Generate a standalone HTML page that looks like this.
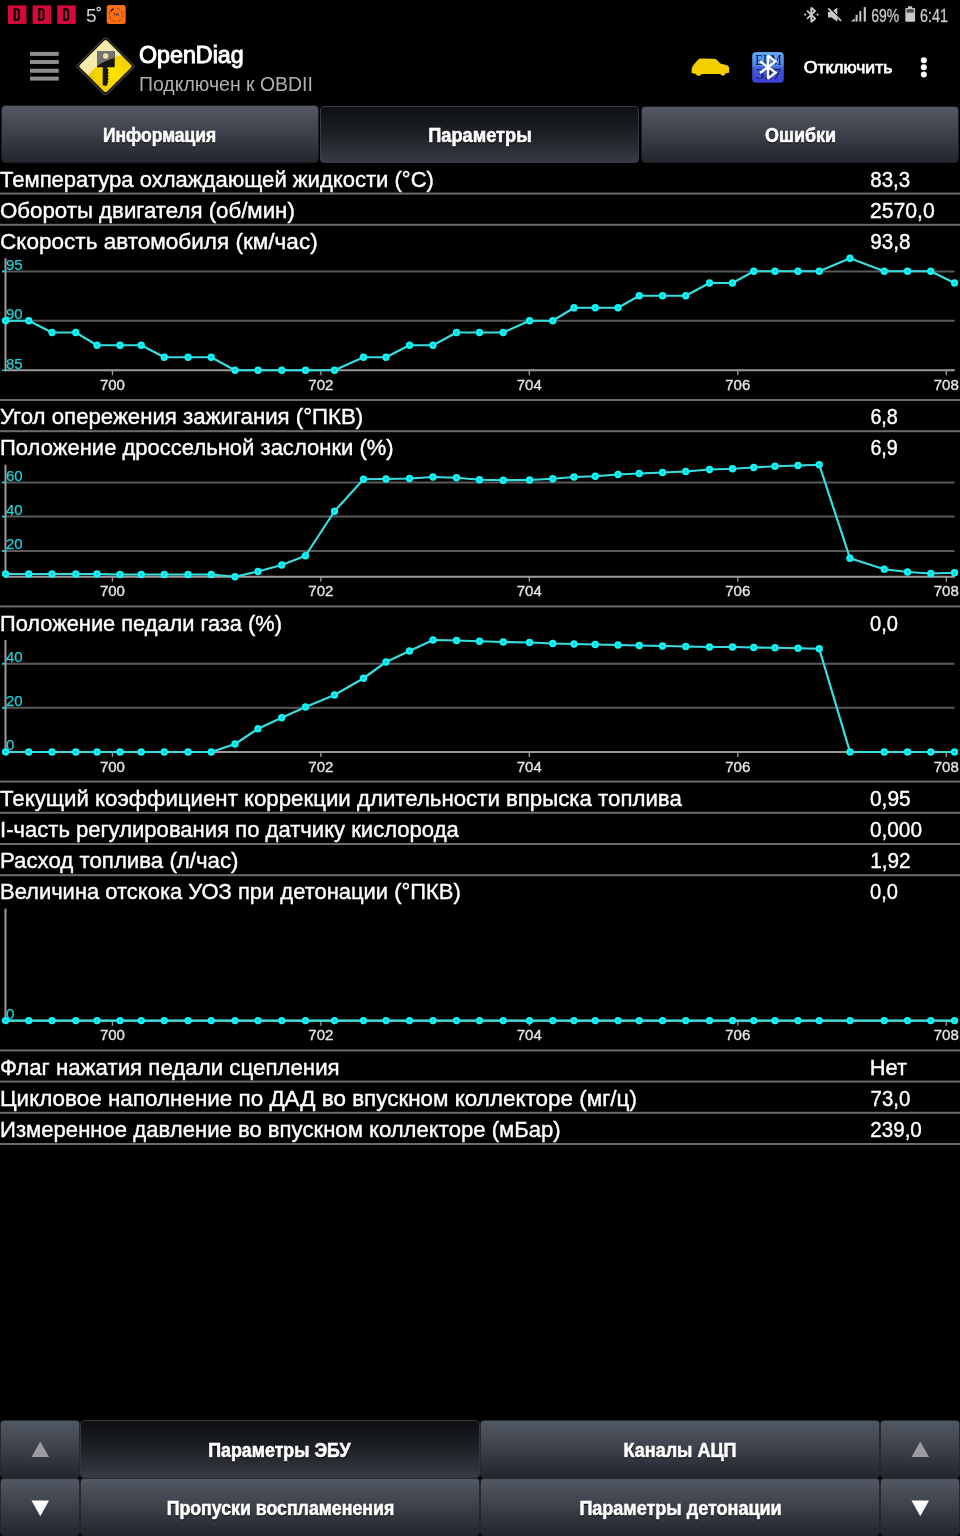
<!DOCTYPE html>
<html><head><meta charset="utf-8"><title>OpenDiag</title>
<style>
html,body{margin:0;padding:0;background:#000;}
body{width:960px;height:1536px;position:relative;overflow:hidden;font-family:'Liberation Sans', sans-serif;}
svg text{font-family:'Liberation Sans', sans-serif;}
.btn{position:absolute;box-sizing:border-box;border-radius:4px;}
.un{background:linear-gradient(#535964 0%,#3b4049 50%,#22262d 100%);border:1px solid #1b1d21;}
.se{background:linear-gradient(#0e1014 0%,#1d2025 50%,#383b43 100%);border:1.5px solid #393c41;}
.b2{border-width:1.4px;border-color:#25282c;border-radius:3.5px;}
.se.b2{border-color:#34373b;}
</style></head><body>
<div class="btn un" style="left:1px;top:105.4px;width:318px;height:57.5px"></div>
<div class="btn se" style="left:320.4px;top:105.6px;width:319px;height:57.3px"></div>
<div class="btn un" style="left:640.9px;top:105.9px;width:318.6px;height:57px"></div>
<div class="btn un b2" style="left:0.3px;top:1419.8px;width:79.6px;height:58.4px"></div>
<div class="btn se b2" style="left:79.9px;top:1419.8px;width:400.4px;height:58.4px"></div>
<div class="btn un b2" style="left:480.2px;top:1419.8px;width:399.6px;height:58.4px"></div>
<div class="btn un b2" style="left:879.8px;top:1419.8px;width:79.9px;height:58.4px"></div>
<div class="btn un b2" style="left:0.3px;top:1478.1px;width:79.6px;height:57.6px"></div>
<div class="btn un b2" style="left:79.9px;top:1478.1px;width:400.4px;height:57.6px"></div>
<div class="btn un b2" style="left:480.2px;top:1478.1px;width:399.6px;height:57.6px"></div>
<div class="btn un b2" style="left:879.8px;top:1478.1px;width:79.9px;height:57.6px"></div>
<svg width="960" height="1536" viewBox="0 0 960 1536" style="position:absolute;left:0;top:0;will-change:transform">

<defs>
<radialGradient id="ydia" cx="0.62" cy="0.62" r="0.5">
<stop offset="0" stop-color="#ffe600"/><stop offset="0.6" stop-color="#f4d200"/><stop offset="1" stop-color="#e8c000"/>
</radialGradient>
<linearGradient id="bt" x1="0" y1="0" x2="0" y2="1">
<stop offset="0" stop-color="#62a8f4"/><stop offset="0.45" stop-color="#4f84e6"/><stop offset="0.5" stop-color="#4262dc"/><stop offset="1" stop-color="#3f3ad6"/>
</linearGradient>
<linearGradient id="keyhead" x1="0" y1="0" x2="0" y2="1">
<stop offset="0" stop-color="#6a6a6a"/><stop offset="0.45" stop-color="#4a4a4a"/><stop offset="0.55" stop-color="#111"/><stop offset="1" stop-color="#111"/>
</linearGradient>
</defs>
<!-- status bar left -->
<g>
<rect x="7.9" y="5.4" width="18.5" height="18.5" fill="#d6083a"/>
<rect x="32.6" y="5.4" width="18.5" height="18.5" fill="#d6083a"/>
<rect x="57.3" y="5.4" width="18.5" height="18.5" fill="#d6083a"/>
<g fill="none" stroke="#000" stroke-width="2">
<path d="M14.6 9.2 L17.0 9.2 Q18.9 9.2 18.9 11.6 L18.9 17.6 Q18.9 20 17.0 20 L14.6 20 Z"/>
<path d="M39.3 9.2 L41.7 9.2 Q43.6 9.2 43.6 11.6 L43.6 17.6 Q43.6 20 41.7 20 L39.3 20 Z"/>
<path d="M64 9.2 L66.4 9.2 Q68.3 9.2 68.3 11.6 L68.3 17.6 Q68.3 20 66.4 20 L64 20 Z"/>
</g>
<text x="86" y="21.5" font-size="19" fill="#d4d4d4">5</text>
<circle cx="98.7" cy="9.1" r="1.7" fill="none" stroke="#d4d4d4" stroke-width="1.2"/>
<rect x="106.7" y="4.9" width="19" height="19" rx="2.5" fill="#f86e14"/>
<circle cx="116" cy="14.8" r="6.7" fill="none" stroke="#9a3c0c" stroke-width="0.9" stroke-dasharray="3 2.4"/>
<path d="M111.2 10.8 L112.8 9.2" stroke="#1a0a04" stroke-width="1.4" stroke-linecap="round"/>
<text x="116" y="16.3" font-size="4.2" font-weight="bold" fill="#5a3a30" text-anchor="middle">TM</text>
</g>
<!-- status bar right -->
<g fill="#c8c8c8" stroke="none">
<path d="M807 10.6 L815 18.4 L811.3 22 L811.3 7.6 L815 11.1 L807 18.9" fill="none" stroke="#c8c8c8" stroke-width="1.9" stroke-linejoin="miter" stroke-miterlimit="2"/>
<circle cx="805.2" cy="14.6" r="1.1"/><circle cx="817.5" cy="14.6" r="1.1"/>
<path d="M828 11.8 L831.6 11.8 L837.3 7.6 L837.3 21.8 L831.6 17.6 L828 17.6 Z"/>
<path d="M829.6 8 L842 20.4" stroke="#000" stroke-width="1.5"/>
<path d="M828.7 8.9 L840.6 20.3" stroke="#c8c8c8" stroke-width="1.8" stroke-linecap="round"/>
<path d="M851 21.6 L854.8 18.3 L854.8 21.6 Z"/>
<rect x="855.6" y="14.8" width="2" height="6.8"/>
<rect x="859.3" y="11.1" width="2" height="10.5"/>
<rect x="863.7" y="7.1" width="2.2" height="14.5"/>
<text x="871.32" y="21.7" font-size="18" stroke="#c8c8c8" stroke-width="0.3" textLength="28" lengthAdjust="spacingAndGlyphs">69%</text>
<rect x="908" y="6.3" width="4.2" height="2" />
<rect x="905.3" y="7.9" width="9.8" height="13.8" rx="0.8"/>
<rect x="906.6" y="9.2" width="7.2" height="3.4" fill="#4a4a4a"/>
<text x="920" y="21.7" font-size="18" stroke="#c8c8c8" stroke-width="0.3" textLength="28.04" lengthAdjust="spacingAndGlyphs">6:41</text>
</g>
<!-- action bar -->
<g fill="#8d8d8d">
<rect x="30" y="51.9" width="28.75" height="4"/>
<rect x="30" y="60" width="28.75" height="4"/>
<rect x="30" y="68.75" width="28.75" height="4"/>
<rect x="30" y="76.6" width="28.75" height="4"/>
</g>
<!-- diamond logo -->
<g>
<path d="M105.6 37.4 Q106.9 37.4 108.1 38.6 L133.9 64.4 Q135.3 65.8 135.3 66.3 Q135.3 66.8 133.9 68.2 L108.1 94 Q106.9 95.2 105.6 95.2 Q104.3 95.2 103.1 94 L77.3 68.2 Q75.9 66.8 75.9 66.3 Q75.9 65.8 77.3 64.4 L103.1 38.6 Q104.3 37.4 105.6 37.4 Z" fill="#3c3c3c"/>
<path d="M105.6 38.9 Q106.6 38.9 107.5 39.8 L132.7 65 Q133.9 66.2 133.9 66.3 Q133.9 66.4 132.7 67.6 L107.5 92.8 Q106.6 93.7 105.6 93.7 Q104.6 93.7 103.7 92.8 L78.5 67.6 Q77.3 66.4 77.3 66.3 Q77.3 66.2 78.5 65 L103.7 39.8 Q104.6 38.9 105.6 38.9 Z" fill="#0c0c0c"/>
<path d="M105.6 40.3 Q106.5 40.3 107.2 41 L131.2 65 Q132.5 66.3 131.2 67.6 L107.2 91.6 Q106.5 92.3 105.6 92.3 Q104.7 92.3 104 91.6 L80 67.6 Q78.7 66.3 80 65 L104 41 Q104.7 40.3 105.6 40.3 Z" fill="url(#ydia)"/>
<path d="M105.6 40.3 Q106.5 40.3 107.2 41 L121.5 55.3 Q99 60 88.5 75.5 L80 67.6 Q78.7 66.3 80 65 L104 41 Q104.7 40.3 105.6 40.3 Z" fill="#f5eaae"/>
<path d="M97 51 L114.7 51 L114.7 67.3 L107.4 67.3 L107.4 68.8 L108.8 70 L107.6 71.6 L108.8 73 L107.6 74.6 L108.8 76 L107.6 77.6 L108.8 79 L107.6 80.6 L108.4 82 L107.4 83.2 L107.4 85 Q107 85.8 105 85.8 Q103 85.8 102.7 85 L102.7 67.3 L97 67.3 Z" fill="#161616"/>
<path d="M97 51 L114.7 51 L114.7 58 Q104.5 60.5 97 66.3 Z" fill="#737373"/>
<circle cx="105.7" cy="56" r="2.7" fill="#f3e3a2"/>
</g>
<text x="138.99" y="62.9" font-size="23" fill="#fff" stroke="#fff" stroke-width="0.95" textLength="104.7" lengthAdjust="spacingAndGlyphs">OpenDiag</text>
<text x="139.01" y="91.25" font-size="19.6" fill="#b0b0b0" textLength="173.9" lengthAdjust="spacingAndGlyphs">Подключен к OBDII</text>
<!-- car -->
<path d="M691.5 72.5 C691.3 69 692.5 65.5 694.3 64 L698 59.8 C699 58.8 700 58.5 701.5 58.5 L714 58.7 C715.5 58.8 716.5 59.3 717.3 60.3 L720.4 63.6 L727 65.3 C728.5 66 729.2 67.2 729.2 68.5 L729.2 72 C729 72.8 728.5 73 727.7 73 L725.5 73.2 C725 75 724 75.6 723 75.6 C721.8 75.6 720.8 75 720.4 73.9 L701.6 73.9 C701 75 700 75.7 698.6 75.7 C697.3 75.7 696.3 75 695.9 73.9 L692.3 73.2 C691.8 73.1 691.5 72.9 691.5 72.5 Z" fill="#f4cf00"/>
<!-- ELM327 bluetooth icon -->
<rect x="752.2" y="52" width="31.6" height="30.8" rx="4" fill="url(#bt)"/>
<text x="768.5" y="64.7" style="font-family:'Liberation Serif'" font-size="14.8" fill="#081436" text-anchor="middle" textLength="26.5" lengthAdjust="spacingAndGlyphs">ELM</text>
<text x="768.5" y="79.1" style="font-family:'Liberation Serif'" font-size="15.2" fill="#0e1646" text-anchor="middle" textLength="25.5" lengthAdjust="spacingAndGlyphs">327</text>
<path d="M759.9 61.3 L775.6 72.6 L768 78.6 L768 55.6 L775.6 61.5 L759.9 73" fill="none" stroke="#fff" stroke-width="2.3" stroke-linejoin="miter" stroke-miterlimit="2"/>
<text x="803.75" y="73.3" font-size="17.4" fill="#fff" stroke="#fff" stroke-width="0.75" textLength="88.56" lengthAdjust="spacingAndGlyphs">Отключить</text>
<g fill="#fff"><circle cx="923.8" cy="60.2" r="3"/><circle cx="923.8" cy="67.3" r="3"/><circle cx="923.8" cy="74.5" r="3"/></g>

<g id="tabs" font-weight="bold" font-size="19.5" fill="#fff" stroke="#fff" stroke-width="0.6" style="filter:drop-shadow(0.8px 1px 0.5px #000)">
<text x="102.9" y="141.7" textLength="113.37" lengthAdjust="spacingAndGlyphs">Информация</text>
<text x="428.27" y="141.7" textLength="103.43" lengthAdjust="spacingAndGlyphs">Параметры</text>
<text x="765.08" y="141.7" textLength="71.03" lengthAdjust="spacingAndGlyphs">Ошибки</text>
<text x="208.29" y="1456.7" textLength="142.24" lengthAdjust="spacingAndGlyphs">Параметры ЭБУ</text>
<text x="623.58" y="1456.7" textLength="112.91" lengthAdjust="spacingAndGlyphs">Каналы АЦП</text>
<text x="166.69" y="1514.9" textLength="227.56" lengthAdjust="spacingAndGlyphs">Пропуски воспламенения</text>
<text x="579.38" y="1514.9" textLength="202.28" lengthAdjust="spacingAndGlyphs">Параметры детонации</text>
</g>
<path d="M40.25 1441.5 L49 1457.1 L31.5 1457.1 Z" fill="#9c9c9c"/>
<path d="M31.5 1500.6 L49 1500.6 L40.25 1516.25 Z" fill="#fff"/>
<path d="M920.25 1441.5 L929 1457.1 L911.5 1457.1 Z" fill="#9c9c9c"/>
<path d="M911.5 1500.6 L929 1500.6 L920.25 1516.25 Z" fill="#fff"/>
<text x="0" y="186.5" font-size="22.5" fill="#fff" font-weight="normal" text-anchor="start" textLength="433.9" lengthAdjust="spacingAndGlyphs" stroke="#fff" stroke-width="0.4">Температура охлаждающей жидкости (°C)</text>
<text x="870.34" y="186.5" font-size="22.5" fill="#fff" font-weight="normal" text-anchor="start" textLength="39.89" lengthAdjust="spacingAndGlyphs" stroke="#fff" stroke-width="0.4">83,3</text>
<rect x="0" y="192.6" width="960" height="2.0" fill="#6c6c6c"/>
<text x="0" y="217.7" font-size="22.5" fill="#fff" font-weight="normal" text-anchor="start" textLength="294.8" lengthAdjust="spacingAndGlyphs" stroke="#fff" stroke-width="0.4">Обороты двигателя (об/мин)</text>
<text x="869.96" y="217.7" font-size="22.5" fill="#fff" font-weight="normal" text-anchor="start" textLength="64.82" lengthAdjust="spacingAndGlyphs" stroke="#fff" stroke-width="0.4">2570,0</text>
<rect x="0" y="223.8" width="960" height="2.0" fill="#6c6c6c"/>
<text x="0" y="248.9" font-size="22.5" fill="#fff" font-weight="normal" text-anchor="start" textLength="317.7" lengthAdjust="spacingAndGlyphs" stroke="#fff" stroke-width="0.4">Скорость автомобиля (км/час)</text>
<text x="870.33" y="248.9" font-size="22.5" fill="#fff" font-weight="normal" text-anchor="start" textLength="40.2" lengthAdjust="spacingAndGlyphs" stroke="#fff" stroke-width="0.4">93,8</text>
<line x1="2" y1="271.4" x2="954.6" y2="271.4" stroke="#5a5a5a" stroke-width="2"/>
<line x1="2" y1="320.75" x2="954.6" y2="320.75" stroke="#5a5a5a" stroke-width="2"/>
<line x1="5.5" y1="258.29999999999995" x2="5.5" y2="371.29999999999995" stroke="#9c9c9c" stroke-width="2"/>
<line x1="4.5" y1="370.29999999999995" x2="954.8" y2="370.29999999999995" stroke="#9c9c9c" stroke-width="2"/>
<line x1="2" y1="271.4" x2="5" y2="271.4" stroke="#22d0d8" stroke-width="1.5"/>
<text x="6" y="269.9" font-size="15" fill="#22d0d8" font-weight="normal" text-anchor="start" stroke="#22d0d8" stroke-width="0.25">95</text>
<line x1="2" y1="320.75" x2="5" y2="320.75" stroke="#22d0d8" stroke-width="1.5"/>
<text x="6" y="319.25" font-size="15" fill="#22d0d8" font-weight="normal" text-anchor="start" stroke="#22d0d8" stroke-width="0.25">90</text>
<line x1="2" y1="370.29999999999995" x2="5" y2="370.29999999999995" stroke="#22d0d8" stroke-width="1.5"/>
<text x="6" y="368.8" font-size="15" fill="#22d0d8" font-weight="normal" text-anchor="start" stroke="#22d0d8" stroke-width="0.25">85</text>
<line x1="112.4" y1="370.29999999999995" x2="112.4" y2="375.29999999999995" stroke="#9c9c9c" stroke-width="1.3"/>
<text x="112.4" y="390.0" font-size="15" fill="#e4e4e4" font-weight="normal" text-anchor="middle" stroke="#e4e4e4" stroke-width="0.35">700</text>
<line x1="320.86" y1="370.29999999999995" x2="320.86" y2="375.29999999999995" stroke="#9c9c9c" stroke-width="1.3"/>
<text x="320.86" y="390.0" font-size="15" fill="#e4e4e4" font-weight="normal" text-anchor="middle" stroke="#e4e4e4" stroke-width="0.35">702</text>
<line x1="529.3" y1="370.29999999999995" x2="529.3" y2="375.29999999999995" stroke="#9c9c9c" stroke-width="1.3"/>
<text x="529.3" y="390.0" font-size="15" fill="#e4e4e4" font-weight="normal" text-anchor="middle" stroke="#e4e4e4" stroke-width="0.35">704</text>
<line x1="737.8" y1="370.29999999999995" x2="737.8" y2="375.29999999999995" stroke="#9c9c9c" stroke-width="1.3"/>
<text x="737.8" y="390.0" font-size="15" fill="#e4e4e4" font-weight="normal" text-anchor="middle" stroke="#e4e4e4" stroke-width="0.35">706</text>
<line x1="946.25" y1="370.29999999999995" x2="946.25" y2="375.29999999999995" stroke="#9c9c9c" stroke-width="1.3"/>
<text x="946.25" y="390.0" font-size="15" fill="#e4e4e4" font-weight="normal" text-anchor="middle" stroke="#e4e4e4" stroke-width="0.35">708</text>
<polyline points="5.5,320.75 28.75,320.75 52,332.5 75.75,332.5 97,345.25 120,345.25 141.25,345.25 164.25,357.25 188,357.25 211.25,357.25 235,370.25 258,370.25 281.75,370.25 305.5,370.25 334.5,370.25 363.5,357.25 386,357.25 409.5,345.25 433,345.25 456.5,332.5 479.5,332.5 503.25,332.5 529.5,320.75 552.75,320.75 574,307.75 595.25,307.75 618,307.75 639.25,295.75 662.5,295.75 685.75,295.75 709.5,283 732.5,283 753.75,271.25 775,271.25 798,271.25 819.25,271.25 850,258.25 884.25,271.25 907.5,271.25 930.75,271.25 954.5,283" fill="none" stroke="#3adcde" stroke-width="2.2" stroke-linejoin="round"/>
<circle cx="5.5" cy="320.75" r="2.5" fill="#17b4bc" stroke="#08fcfc" stroke-width="2.3"/>
<circle cx="28.75" cy="320.75" r="2.5" fill="#17b4bc" stroke="#08fcfc" stroke-width="2.3"/>
<circle cx="52" cy="332.5" r="2.5" fill="#17b4bc" stroke="#08fcfc" stroke-width="2.3"/>
<circle cx="75.75" cy="332.5" r="2.5" fill="#17b4bc" stroke="#08fcfc" stroke-width="2.3"/>
<circle cx="97" cy="345.25" r="2.5" fill="#17b4bc" stroke="#08fcfc" stroke-width="2.3"/>
<circle cx="120" cy="345.25" r="2.5" fill="#17b4bc" stroke="#08fcfc" stroke-width="2.3"/>
<circle cx="141.25" cy="345.25" r="2.5" fill="#17b4bc" stroke="#08fcfc" stroke-width="2.3"/>
<circle cx="164.25" cy="357.25" r="2.5" fill="#17b4bc" stroke="#08fcfc" stroke-width="2.3"/>
<circle cx="188" cy="357.25" r="2.5" fill="#17b4bc" stroke="#08fcfc" stroke-width="2.3"/>
<circle cx="211.25" cy="357.25" r="2.5" fill="#17b4bc" stroke="#08fcfc" stroke-width="2.3"/>
<circle cx="235" cy="370.25" r="2.5" fill="#17b4bc" stroke="#08fcfc" stroke-width="2.3"/>
<circle cx="258" cy="370.25" r="2.5" fill="#17b4bc" stroke="#08fcfc" stroke-width="2.3"/>
<circle cx="281.75" cy="370.25" r="2.5" fill="#17b4bc" stroke="#08fcfc" stroke-width="2.3"/>
<circle cx="305.5" cy="370.25" r="2.5" fill="#17b4bc" stroke="#08fcfc" stroke-width="2.3"/>
<circle cx="334.5" cy="370.25" r="2.5" fill="#17b4bc" stroke="#08fcfc" stroke-width="2.3"/>
<circle cx="363.5" cy="357.25" r="2.5" fill="#17b4bc" stroke="#08fcfc" stroke-width="2.3"/>
<circle cx="386" cy="357.25" r="2.5" fill="#17b4bc" stroke="#08fcfc" stroke-width="2.3"/>
<circle cx="409.5" cy="345.25" r="2.5" fill="#17b4bc" stroke="#08fcfc" stroke-width="2.3"/>
<circle cx="433" cy="345.25" r="2.5" fill="#17b4bc" stroke="#08fcfc" stroke-width="2.3"/>
<circle cx="456.5" cy="332.5" r="2.5" fill="#17b4bc" stroke="#08fcfc" stroke-width="2.3"/>
<circle cx="479.5" cy="332.5" r="2.5" fill="#17b4bc" stroke="#08fcfc" stroke-width="2.3"/>
<circle cx="503.25" cy="332.5" r="2.5" fill="#17b4bc" stroke="#08fcfc" stroke-width="2.3"/>
<circle cx="529.5" cy="320.75" r="2.5" fill="#17b4bc" stroke="#08fcfc" stroke-width="2.3"/>
<circle cx="552.75" cy="320.75" r="2.5" fill="#17b4bc" stroke="#08fcfc" stroke-width="2.3"/>
<circle cx="574" cy="307.75" r="2.5" fill="#17b4bc" stroke="#08fcfc" stroke-width="2.3"/>
<circle cx="595.25" cy="307.75" r="2.5" fill="#17b4bc" stroke="#08fcfc" stroke-width="2.3"/>
<circle cx="618" cy="307.75" r="2.5" fill="#17b4bc" stroke="#08fcfc" stroke-width="2.3"/>
<circle cx="639.25" cy="295.75" r="2.5" fill="#17b4bc" stroke="#08fcfc" stroke-width="2.3"/>
<circle cx="662.5" cy="295.75" r="2.5" fill="#17b4bc" stroke="#08fcfc" stroke-width="2.3"/>
<circle cx="685.75" cy="295.75" r="2.5" fill="#17b4bc" stroke="#08fcfc" stroke-width="2.3"/>
<circle cx="709.5" cy="283" r="2.5" fill="#17b4bc" stroke="#08fcfc" stroke-width="2.3"/>
<circle cx="732.5" cy="283" r="2.5" fill="#17b4bc" stroke="#08fcfc" stroke-width="2.3"/>
<circle cx="753.75" cy="271.25" r="2.5" fill="#17b4bc" stroke="#08fcfc" stroke-width="2.3"/>
<circle cx="775" cy="271.25" r="2.5" fill="#17b4bc" stroke="#08fcfc" stroke-width="2.3"/>
<circle cx="798" cy="271.25" r="2.5" fill="#17b4bc" stroke="#08fcfc" stroke-width="2.3"/>
<circle cx="819.25" cy="271.25" r="2.5" fill="#17b4bc" stroke="#08fcfc" stroke-width="2.3"/>
<circle cx="850" cy="258.25" r="2.5" fill="#17b4bc" stroke="#08fcfc" stroke-width="2.3"/>
<circle cx="884.25" cy="271.25" r="2.5" fill="#17b4bc" stroke="#08fcfc" stroke-width="2.3"/>
<circle cx="907.5" cy="271.25" r="2.5" fill="#17b4bc" stroke="#08fcfc" stroke-width="2.3"/>
<circle cx="930.75" cy="271.25" r="2.5" fill="#17b4bc" stroke="#08fcfc" stroke-width="2.3"/>
<circle cx="954.5" cy="283" r="2.5" fill="#17b4bc" stroke="#08fcfc" stroke-width="2.3"/>
<polyline points="5.5,320.75 28.75,320.75 52,332.5 75.75,332.5 97,345.25 120,345.25 141.25,345.25 164.25,357.25 188,357.25 211.25,357.25 235,370.25 258,370.25 281.75,370.25 305.5,370.25 334.5,370.25 363.5,357.25 386,357.25 409.5,345.25 433,345.25 456.5,332.5 479.5,332.5 503.25,332.5 529.5,320.75 552.75,320.75 574,307.75 595.25,307.75 618,307.75 639.25,295.75 662.5,295.75 685.75,295.75 709.5,283 732.5,283 753.75,271.25 775,271.25 798,271.25 819.25,271.25 850,258.25 884.25,271.25 907.5,271.25 930.75,271.25 954.5,283" fill="none" stroke="#3adcde" stroke-width="1.2" stroke-linejoin="round" opacity="0.6"/>
<rect x="0" y="399.0" width="960" height="2.0" fill="#6c6c6c"/>
<text x="0" y="424.1" font-size="22.5" fill="#fff" font-weight="normal" text-anchor="start" textLength="363.2" lengthAdjust="spacingAndGlyphs" stroke="#fff" stroke-width="0.4">Угол опережения зажигания (°ПКВ)</text>
<text x="870.38" y="424.1" font-size="22.5" fill="#fff" font-weight="normal" text-anchor="start" textLength="27.37" lengthAdjust="spacingAndGlyphs" stroke="#fff" stroke-width="0.4">6,8</text>
<rect x="0" y="430.2" width="960" height="2.0" fill="#6c6c6c"/>
<text x="0" y="455.3" font-size="22.5" fill="#fff" font-weight="normal" text-anchor="start" textLength="393.7" lengthAdjust="spacingAndGlyphs" stroke="#fff" stroke-width="0.4">Положение дроссельной заслонки (%)</text>
<text x="870.38" y="455.3" font-size="22.5" fill="#fff" font-weight="normal" text-anchor="start" textLength="27.37" lengthAdjust="spacingAndGlyphs" stroke="#fff" stroke-width="0.4">6,9</text>
<line x1="2" y1="482.5" x2="954.6" y2="482.5" stroke="#5a5a5a" stroke-width="2"/>
<line x1="2" y1="516.6" x2="954.6" y2="516.6" stroke="#5a5a5a" stroke-width="2"/>
<line x1="2" y1="550.9" x2="954.6" y2="550.9" stroke="#5a5a5a" stroke-width="2"/>
<line x1="5.5" y1="464.7" x2="5.5" y2="577.6999999999999" stroke="#9c9c9c" stroke-width="2"/>
<line x1="4.5" y1="576.6999999999999" x2="954.8" y2="576.6999999999999" stroke="#9c9c9c" stroke-width="2"/>
<line x1="2" y1="482.5" x2="5" y2="482.5" stroke="#22d0d8" stroke-width="1.5"/>
<text x="6" y="481.0" font-size="15" fill="#22d0d8" font-weight="normal" text-anchor="start" stroke="#22d0d8" stroke-width="0.25">60</text>
<line x1="2" y1="516.6" x2="5" y2="516.6" stroke="#22d0d8" stroke-width="1.5"/>
<text x="6" y="515.1" font-size="15" fill="#22d0d8" font-weight="normal" text-anchor="start" stroke="#22d0d8" stroke-width="0.25">40</text>
<line x1="2" y1="550.9" x2="5" y2="550.9" stroke="#22d0d8" stroke-width="1.5"/>
<text x="6" y="549.4" font-size="15" fill="#22d0d8" font-weight="normal" text-anchor="start" stroke="#22d0d8" stroke-width="0.25">20</text>
<line x1="112.4" y1="576.6999999999999" x2="112.4" y2="581.6999999999999" stroke="#9c9c9c" stroke-width="1.3"/>
<text x="112.4" y="596.4" font-size="15" fill="#e4e4e4" font-weight="normal" text-anchor="middle" stroke="#e4e4e4" stroke-width="0.35">700</text>
<line x1="320.86" y1="576.6999999999999" x2="320.86" y2="581.6999999999999" stroke="#9c9c9c" stroke-width="1.3"/>
<text x="320.86" y="596.4" font-size="15" fill="#e4e4e4" font-weight="normal" text-anchor="middle" stroke="#e4e4e4" stroke-width="0.35">702</text>
<line x1="529.3" y1="576.6999999999999" x2="529.3" y2="581.6999999999999" stroke="#9c9c9c" stroke-width="1.3"/>
<text x="529.3" y="596.4" font-size="15" fill="#e4e4e4" font-weight="normal" text-anchor="middle" stroke="#e4e4e4" stroke-width="0.35">704</text>
<line x1="737.8" y1="576.6999999999999" x2="737.8" y2="581.6999999999999" stroke="#9c9c9c" stroke-width="1.3"/>
<text x="737.8" y="596.4" font-size="15" fill="#e4e4e4" font-weight="normal" text-anchor="middle" stroke="#e4e4e4" stroke-width="0.35">706</text>
<line x1="946.25" y1="576.6999999999999" x2="946.25" y2="581.6999999999999" stroke="#9c9c9c" stroke-width="1.3"/>
<text x="946.25" y="596.4" font-size="15" fill="#e4e4e4" font-weight="normal" text-anchor="middle" stroke="#e4e4e4" stroke-width="0.35">708</text>
<polyline points="5.5,574.0 28.75,574.0 52,574.0 75.75,574.0 97,574.0 120,574.5 141.25,574.5 164.25,574.5 188,574.5 211.25,574.5 235,576.75 258,571.5 281.75,565 305.5,555.75 334.5,511.25 363.5,479.25 386,479 409.5,478.5 433,477 456.5,477.75 479.5,479.75 503.25,480.25 529.5,480 552.75,478.75 574,477 595.25,476.25 618,474.5 639.25,473.5 662.5,472.5 685.75,471.5 709.5,469.5 732.5,468.75 753.75,467.5 775,466.25 798,465.5 819.25,464.75 850,558.25 884.25,569.25 907.5,572 930.75,573.5 954.5,572.75" fill="none" stroke="#3adcde" stroke-width="2.2" stroke-linejoin="round"/>
<circle cx="5.5" cy="574.0" r="2.5" fill="#17b4bc" stroke="#08fcfc" stroke-width="2.3"/>
<circle cx="28.75" cy="574.0" r="2.5" fill="#17b4bc" stroke="#08fcfc" stroke-width="2.3"/>
<circle cx="52" cy="574.0" r="2.5" fill="#17b4bc" stroke="#08fcfc" stroke-width="2.3"/>
<circle cx="75.75" cy="574.0" r="2.5" fill="#17b4bc" stroke="#08fcfc" stroke-width="2.3"/>
<circle cx="97" cy="574.0" r="2.5" fill="#17b4bc" stroke="#08fcfc" stroke-width="2.3"/>
<circle cx="120" cy="574.5" r="2.5" fill="#17b4bc" stroke="#08fcfc" stroke-width="2.3"/>
<circle cx="141.25" cy="574.5" r="2.5" fill="#17b4bc" stroke="#08fcfc" stroke-width="2.3"/>
<circle cx="164.25" cy="574.5" r="2.5" fill="#17b4bc" stroke="#08fcfc" stroke-width="2.3"/>
<circle cx="188" cy="574.5" r="2.5" fill="#17b4bc" stroke="#08fcfc" stroke-width="2.3"/>
<circle cx="211.25" cy="574.5" r="2.5" fill="#17b4bc" stroke="#08fcfc" stroke-width="2.3"/>
<circle cx="235" cy="576.75" r="2.5" fill="#17b4bc" stroke="#08fcfc" stroke-width="2.3"/>
<circle cx="258" cy="571.5" r="2.5" fill="#17b4bc" stroke="#08fcfc" stroke-width="2.3"/>
<circle cx="281.75" cy="565" r="2.5" fill="#17b4bc" stroke="#08fcfc" stroke-width="2.3"/>
<circle cx="305.5" cy="555.75" r="2.5" fill="#17b4bc" stroke="#08fcfc" stroke-width="2.3"/>
<circle cx="334.5" cy="511.25" r="2.5" fill="#17b4bc" stroke="#08fcfc" stroke-width="2.3"/>
<circle cx="363.5" cy="479.25" r="2.5" fill="#17b4bc" stroke="#08fcfc" stroke-width="2.3"/>
<circle cx="386" cy="479" r="2.5" fill="#17b4bc" stroke="#08fcfc" stroke-width="2.3"/>
<circle cx="409.5" cy="478.5" r="2.5" fill="#17b4bc" stroke="#08fcfc" stroke-width="2.3"/>
<circle cx="433" cy="477" r="2.5" fill="#17b4bc" stroke="#08fcfc" stroke-width="2.3"/>
<circle cx="456.5" cy="477.75" r="2.5" fill="#17b4bc" stroke="#08fcfc" stroke-width="2.3"/>
<circle cx="479.5" cy="479.75" r="2.5" fill="#17b4bc" stroke="#08fcfc" stroke-width="2.3"/>
<circle cx="503.25" cy="480.25" r="2.5" fill="#17b4bc" stroke="#08fcfc" stroke-width="2.3"/>
<circle cx="529.5" cy="480" r="2.5" fill="#17b4bc" stroke="#08fcfc" stroke-width="2.3"/>
<circle cx="552.75" cy="478.75" r="2.5" fill="#17b4bc" stroke="#08fcfc" stroke-width="2.3"/>
<circle cx="574" cy="477" r="2.5" fill="#17b4bc" stroke="#08fcfc" stroke-width="2.3"/>
<circle cx="595.25" cy="476.25" r="2.5" fill="#17b4bc" stroke="#08fcfc" stroke-width="2.3"/>
<circle cx="618" cy="474.5" r="2.5" fill="#17b4bc" stroke="#08fcfc" stroke-width="2.3"/>
<circle cx="639.25" cy="473.5" r="2.5" fill="#17b4bc" stroke="#08fcfc" stroke-width="2.3"/>
<circle cx="662.5" cy="472.5" r="2.5" fill="#17b4bc" stroke="#08fcfc" stroke-width="2.3"/>
<circle cx="685.75" cy="471.5" r="2.5" fill="#17b4bc" stroke="#08fcfc" stroke-width="2.3"/>
<circle cx="709.5" cy="469.5" r="2.5" fill="#17b4bc" stroke="#08fcfc" stroke-width="2.3"/>
<circle cx="732.5" cy="468.75" r="2.5" fill="#17b4bc" stroke="#08fcfc" stroke-width="2.3"/>
<circle cx="753.75" cy="467.5" r="2.5" fill="#17b4bc" stroke="#08fcfc" stroke-width="2.3"/>
<circle cx="775" cy="466.25" r="2.5" fill="#17b4bc" stroke="#08fcfc" stroke-width="2.3"/>
<circle cx="798" cy="465.5" r="2.5" fill="#17b4bc" stroke="#08fcfc" stroke-width="2.3"/>
<circle cx="819.25" cy="464.75" r="2.5" fill="#17b4bc" stroke="#08fcfc" stroke-width="2.3"/>
<circle cx="850" cy="558.25" r="2.5" fill="#17b4bc" stroke="#08fcfc" stroke-width="2.3"/>
<circle cx="884.25" cy="569.25" r="2.5" fill="#17b4bc" stroke="#08fcfc" stroke-width="2.3"/>
<circle cx="907.5" cy="572" r="2.5" fill="#17b4bc" stroke="#08fcfc" stroke-width="2.3"/>
<circle cx="930.75" cy="573.5" r="2.5" fill="#17b4bc" stroke="#08fcfc" stroke-width="2.3"/>
<circle cx="954.5" cy="572.75" r="2.5" fill="#17b4bc" stroke="#08fcfc" stroke-width="2.3"/>
<polyline points="5.5,574.0 28.75,574.0 52,574.0 75.75,574.0 97,574.0 120,574.5 141.25,574.5 164.25,574.5 188,574.5 211.25,574.5 235,576.75 258,571.5 281.75,565 305.5,555.75 334.5,511.25 363.5,479.25 386,479 409.5,478.5 433,477 456.5,477.75 479.5,479.75 503.25,480.25 529.5,480 552.75,478.75 574,477 595.25,476.25 618,474.5 639.25,473.5 662.5,472.5 685.75,471.5 709.5,469.5 732.5,468.75 753.75,467.5 775,466.25 798,465.5 819.25,464.75 850,558.25 884.25,569.25 907.5,572 930.75,573.5 954.5,572.75" fill="none" stroke="#3adcde" stroke-width="1.2" stroke-linejoin="round" opacity="0.6"/>
<rect x="0" y="605.4" width="960" height="2.0" fill="#6c6c6c"/>
<text x="0" y="630.5" font-size="22.5" fill="#fff" font-weight="normal" text-anchor="start" textLength="281.9" lengthAdjust="spacingAndGlyphs" stroke="#fff" stroke-width="0.4">Положение педали газа (%)</text>
<text x="870.01" y="630.5" font-size="22.5" fill="#fff" font-weight="normal" text-anchor="start" textLength="27.94" lengthAdjust="spacingAndGlyphs" stroke="#fff" stroke-width="0.4">0,0</text>
<line x1="2" y1="663.75" x2="954.6" y2="663.75" stroke="#5a5a5a" stroke-width="2"/>
<line x1="2" y1="707.75" x2="954.6" y2="707.75" stroke="#5a5a5a" stroke-width="2"/>
<line x1="5.5" y1="639.9" x2="5.5" y2="752.9" stroke="#9c9c9c" stroke-width="2"/>
<line x1="4.5" y1="751.9" x2="954.8" y2="751.9" stroke="#9c9c9c" stroke-width="2"/>
<line x1="2" y1="663.75" x2="5" y2="663.75" stroke="#22d0d8" stroke-width="1.5"/>
<text x="6" y="662.25" font-size="15" fill="#22d0d8" font-weight="normal" text-anchor="start" stroke="#22d0d8" stroke-width="0.25">40</text>
<line x1="2" y1="707.75" x2="5" y2="707.75" stroke="#22d0d8" stroke-width="1.5"/>
<text x="6" y="706.25" font-size="15" fill="#22d0d8" font-weight="normal" text-anchor="start" stroke="#22d0d8" stroke-width="0.25">20</text>
<line x1="2" y1="751.9" x2="5" y2="751.9" stroke="#22d0d8" stroke-width="1.5"/>
<text x="6" y="750.4" font-size="15" fill="#22d0d8" font-weight="normal" text-anchor="start" stroke="#22d0d8" stroke-width="0.25">0</text>
<line x1="112.4" y1="751.9" x2="112.4" y2="756.9" stroke="#9c9c9c" stroke-width="1.3"/>
<text x="112.4" y="771.6" font-size="15" fill="#e4e4e4" font-weight="normal" text-anchor="middle" stroke="#e4e4e4" stroke-width="0.35">700</text>
<line x1="320.86" y1="751.9" x2="320.86" y2="756.9" stroke="#9c9c9c" stroke-width="1.3"/>
<text x="320.86" y="771.6" font-size="15" fill="#e4e4e4" font-weight="normal" text-anchor="middle" stroke="#e4e4e4" stroke-width="0.35">702</text>
<line x1="529.3" y1="751.9" x2="529.3" y2="756.9" stroke="#9c9c9c" stroke-width="1.3"/>
<text x="529.3" y="771.6" font-size="15" fill="#e4e4e4" font-weight="normal" text-anchor="middle" stroke="#e4e4e4" stroke-width="0.35">704</text>
<line x1="737.8" y1="751.9" x2="737.8" y2="756.9" stroke="#9c9c9c" stroke-width="1.3"/>
<text x="737.8" y="771.6" font-size="15" fill="#e4e4e4" font-weight="normal" text-anchor="middle" stroke="#e4e4e4" stroke-width="0.35">706</text>
<line x1="946.25" y1="751.9" x2="946.25" y2="756.9" stroke="#9c9c9c" stroke-width="1.3"/>
<text x="946.25" y="771.6" font-size="15" fill="#e4e4e4" font-weight="normal" text-anchor="middle" stroke="#e4e4e4" stroke-width="0.35">708</text>
<polyline points="5.5,752 28.75,752 52,752 75.75,752 97,752 120,752 141.25,752 164.25,752 188,752 211.25,752 235,744 258,728.75 281.75,717.75 305.5,707 334.5,695 363.5,678.25 386,662 409.5,651 433,640 456.5,640.5 479.5,641.25 503.25,642 529.5,642.5 552.75,643.5 574,644 595.25,644.5 618,645 639.25,645.5 662.5,646 685.75,646.5 709.5,647 732.5,647 753.75,647.5 775,647.75 798,648.25 819.25,648.75 850,752 884.25,752 907.5,752 930.75,752 954.5,752" fill="none" stroke="#3adcde" stroke-width="2.2" stroke-linejoin="round"/>
<circle cx="5.5" cy="752" r="2.5" fill="#17b4bc" stroke="#08fcfc" stroke-width="2.3"/>
<circle cx="28.75" cy="752" r="2.5" fill="#17b4bc" stroke="#08fcfc" stroke-width="2.3"/>
<circle cx="52" cy="752" r="2.5" fill="#17b4bc" stroke="#08fcfc" stroke-width="2.3"/>
<circle cx="75.75" cy="752" r="2.5" fill="#17b4bc" stroke="#08fcfc" stroke-width="2.3"/>
<circle cx="97" cy="752" r="2.5" fill="#17b4bc" stroke="#08fcfc" stroke-width="2.3"/>
<circle cx="120" cy="752" r="2.5" fill="#17b4bc" stroke="#08fcfc" stroke-width="2.3"/>
<circle cx="141.25" cy="752" r="2.5" fill="#17b4bc" stroke="#08fcfc" stroke-width="2.3"/>
<circle cx="164.25" cy="752" r="2.5" fill="#17b4bc" stroke="#08fcfc" stroke-width="2.3"/>
<circle cx="188" cy="752" r="2.5" fill="#17b4bc" stroke="#08fcfc" stroke-width="2.3"/>
<circle cx="211.25" cy="752" r="2.5" fill="#17b4bc" stroke="#08fcfc" stroke-width="2.3"/>
<circle cx="235" cy="744" r="2.5" fill="#17b4bc" stroke="#08fcfc" stroke-width="2.3"/>
<circle cx="258" cy="728.75" r="2.5" fill="#17b4bc" stroke="#08fcfc" stroke-width="2.3"/>
<circle cx="281.75" cy="717.75" r="2.5" fill="#17b4bc" stroke="#08fcfc" stroke-width="2.3"/>
<circle cx="305.5" cy="707" r="2.5" fill="#17b4bc" stroke="#08fcfc" stroke-width="2.3"/>
<circle cx="334.5" cy="695" r="2.5" fill="#17b4bc" stroke="#08fcfc" stroke-width="2.3"/>
<circle cx="363.5" cy="678.25" r="2.5" fill="#17b4bc" stroke="#08fcfc" stroke-width="2.3"/>
<circle cx="386" cy="662" r="2.5" fill="#17b4bc" stroke="#08fcfc" stroke-width="2.3"/>
<circle cx="409.5" cy="651" r="2.5" fill="#17b4bc" stroke="#08fcfc" stroke-width="2.3"/>
<circle cx="433" cy="640" r="2.5" fill="#17b4bc" stroke="#08fcfc" stroke-width="2.3"/>
<circle cx="456.5" cy="640.5" r="2.5" fill="#17b4bc" stroke="#08fcfc" stroke-width="2.3"/>
<circle cx="479.5" cy="641.25" r="2.5" fill="#17b4bc" stroke="#08fcfc" stroke-width="2.3"/>
<circle cx="503.25" cy="642" r="2.5" fill="#17b4bc" stroke="#08fcfc" stroke-width="2.3"/>
<circle cx="529.5" cy="642.5" r="2.5" fill="#17b4bc" stroke="#08fcfc" stroke-width="2.3"/>
<circle cx="552.75" cy="643.5" r="2.5" fill="#17b4bc" stroke="#08fcfc" stroke-width="2.3"/>
<circle cx="574" cy="644" r="2.5" fill="#17b4bc" stroke="#08fcfc" stroke-width="2.3"/>
<circle cx="595.25" cy="644.5" r="2.5" fill="#17b4bc" stroke="#08fcfc" stroke-width="2.3"/>
<circle cx="618" cy="645" r="2.5" fill="#17b4bc" stroke="#08fcfc" stroke-width="2.3"/>
<circle cx="639.25" cy="645.5" r="2.5" fill="#17b4bc" stroke="#08fcfc" stroke-width="2.3"/>
<circle cx="662.5" cy="646" r="2.5" fill="#17b4bc" stroke="#08fcfc" stroke-width="2.3"/>
<circle cx="685.75" cy="646.5" r="2.5" fill="#17b4bc" stroke="#08fcfc" stroke-width="2.3"/>
<circle cx="709.5" cy="647" r="2.5" fill="#17b4bc" stroke="#08fcfc" stroke-width="2.3"/>
<circle cx="732.5" cy="647" r="2.5" fill="#17b4bc" stroke="#08fcfc" stroke-width="2.3"/>
<circle cx="753.75" cy="647.5" r="2.5" fill="#17b4bc" stroke="#08fcfc" stroke-width="2.3"/>
<circle cx="775" cy="647.75" r="2.5" fill="#17b4bc" stroke="#08fcfc" stroke-width="2.3"/>
<circle cx="798" cy="648.25" r="2.5" fill="#17b4bc" stroke="#08fcfc" stroke-width="2.3"/>
<circle cx="819.25" cy="648.75" r="2.5" fill="#17b4bc" stroke="#08fcfc" stroke-width="2.3"/>
<circle cx="850" cy="752" r="2.5" fill="#17b4bc" stroke="#08fcfc" stroke-width="2.3"/>
<circle cx="884.25" cy="752" r="2.5" fill="#17b4bc" stroke="#08fcfc" stroke-width="2.3"/>
<circle cx="907.5" cy="752" r="2.5" fill="#17b4bc" stroke="#08fcfc" stroke-width="2.3"/>
<circle cx="930.75" cy="752" r="2.5" fill="#17b4bc" stroke="#08fcfc" stroke-width="2.3"/>
<circle cx="954.5" cy="752" r="2.5" fill="#17b4bc" stroke="#08fcfc" stroke-width="2.3"/>
<polyline points="5.5,752 28.75,752 52,752 75.75,752 97,752 120,752 141.25,752 164.25,752 188,752 211.25,752 235,744 258,728.75 281.75,717.75 305.5,707 334.5,695 363.5,678.25 386,662 409.5,651 433,640 456.5,640.5 479.5,641.25 503.25,642 529.5,642.5 552.75,643.5 574,644 595.25,644.5 618,645 639.25,645.5 662.5,646 685.75,646.5 709.5,647 732.5,647 753.75,647.5 775,647.75 798,648.25 819.25,648.75 850,752 884.25,752 907.5,752 930.75,752 954.5,752" fill="none" stroke="#3adcde" stroke-width="1.2" stroke-linejoin="round" opacity="0.6"/>
<rect x="0" y="780.6" width="960" height="2.0" fill="#6c6c6c"/>
<text x="0" y="805.7" font-size="22.5" fill="#fff" font-weight="normal" text-anchor="start" textLength="681.8" lengthAdjust="spacingAndGlyphs" stroke="#fff" stroke-width="0.4">Текущий коэффициент коррекции длительности впрыска топлива</text>
<text x="869.97" y="805.7" font-size="22.5" fill="#fff" font-weight="normal" text-anchor="start" textLength="40.77" lengthAdjust="spacingAndGlyphs" stroke="#fff" stroke-width="0.4">0,95</text>
<rect x="0" y="811.8" width="960" height="2.0" fill="#6c6c6c"/>
<text x="0" y="836.9" font-size="22.5" fill="#fff" font-weight="normal" text-anchor="start" textLength="458.8" lengthAdjust="spacingAndGlyphs" stroke="#fff" stroke-width="0.4">I-часть регулирования по датчику кислорода</text>
<text x="869.98" y="836.9" font-size="22.5" fill="#fff" font-weight="normal" text-anchor="start" textLength="52.01" lengthAdjust="spacingAndGlyphs" stroke="#fff" stroke-width="0.4">0,000</text>
<rect x="0" y="843.0" width="960" height="2.0" fill="#6c6c6c"/>
<text x="0" y="868.1" font-size="22.5" fill="#fff" font-weight="normal" text-anchor="start" textLength="238.5" lengthAdjust="spacingAndGlyphs" stroke="#fff" stroke-width="0.4">Расход топлива (л/час)</text>
<text x="870.16" y="868.1" font-size="22.5" fill="#fff" font-weight="normal" text-anchor="start" textLength="40.38" lengthAdjust="spacingAndGlyphs" stroke="#fff" stroke-width="0.4">1,92</text>
<rect x="0" y="874.2" width="960" height="2.0" fill="#6c6c6c"/>
<text x="0" y="899.3" font-size="22.5" fill="#fff" font-weight="normal" text-anchor="start" textLength="460.8" lengthAdjust="spacingAndGlyphs" stroke="#fff" stroke-width="0.4">Величина отскока УОЗ при детонации (°ПКВ)</text>
<text x="870.01" y="899.3" font-size="22.5" fill="#fff" font-weight="normal" text-anchor="start" textLength="27.94" lengthAdjust="spacingAndGlyphs" stroke="#fff" stroke-width="0.4">0,0</text>
<line x1="5.5" y1="908.7000000000002" x2="5.5" y2="1021.7000000000002" stroke="#9c9c9c" stroke-width="2"/>
<line x1="4.5" y1="1020.7000000000002" x2="954.8" y2="1020.7000000000002" stroke="#9c9c9c" stroke-width="2"/>
<line x1="2" y1="1020.7000000000002" x2="5" y2="1020.7000000000002" stroke="#22d0d8" stroke-width="1.5"/>
<text x="6" y="1019.2" font-size="15" fill="#22d0d8" font-weight="normal" text-anchor="start" stroke="#22d0d8" stroke-width="0.25">0</text>
<line x1="112.4" y1="1020.7000000000002" x2="112.4" y2="1025.7000000000003" stroke="#9c9c9c" stroke-width="1.3"/>
<text x="112.4" y="1040.4" font-size="15" fill="#e4e4e4" font-weight="normal" text-anchor="middle" stroke="#e4e4e4" stroke-width="0.35">700</text>
<line x1="320.86" y1="1020.7000000000002" x2="320.86" y2="1025.7000000000003" stroke="#9c9c9c" stroke-width="1.3"/>
<text x="320.86" y="1040.4" font-size="15" fill="#e4e4e4" font-weight="normal" text-anchor="middle" stroke="#e4e4e4" stroke-width="0.35">702</text>
<line x1="529.3" y1="1020.7000000000002" x2="529.3" y2="1025.7000000000003" stroke="#9c9c9c" stroke-width="1.3"/>
<text x="529.3" y="1040.4" font-size="15" fill="#e4e4e4" font-weight="normal" text-anchor="middle" stroke="#e4e4e4" stroke-width="0.35">704</text>
<line x1="737.8" y1="1020.7000000000002" x2="737.8" y2="1025.7000000000003" stroke="#9c9c9c" stroke-width="1.3"/>
<text x="737.8" y="1040.4" font-size="15" fill="#e4e4e4" font-weight="normal" text-anchor="middle" stroke="#e4e4e4" stroke-width="0.35">706</text>
<line x1="946.25" y1="1020.7000000000002" x2="946.25" y2="1025.7000000000003" stroke="#9c9c9c" stroke-width="1.3"/>
<text x="946.25" y="1040.4" font-size="15" fill="#e4e4e4" font-weight="normal" text-anchor="middle" stroke="#e4e4e4" stroke-width="0.35">708</text>
<polyline points="5.5,1020.6 28.75,1020.6 52,1020.6 75.75,1020.6 97,1020.6 120,1020.6 141.25,1020.6 164.25,1020.6 188,1020.6 211.25,1020.6 235,1020.6 258,1020.6 281.75,1020.6 305.5,1020.6 334.5,1020.6 363.5,1020.6 386,1020.6 409.5,1020.6 433,1020.6 456.5,1020.6 479.5,1020.6 503.25,1020.6 529.5,1020.6 552.75,1020.6 574,1020.6 595.25,1020.6 618,1020.6 639.25,1020.6 662.5,1020.6 685.75,1020.6 709.5,1020.6 732.5,1020.6 753.75,1020.6 775,1020.6 798,1020.6 819.25,1020.6 850,1020.6 884.25,1020.6 907.5,1020.6 930.75,1020.6 954.5,1020.6" fill="none" stroke="#3adcde" stroke-width="2.2" stroke-linejoin="round"/>
<circle cx="5.5" cy="1020.6" r="2.5" fill="#17b4bc" stroke="#08fcfc" stroke-width="2.3"/>
<circle cx="28.75" cy="1020.6" r="2.5" fill="#17b4bc" stroke="#08fcfc" stroke-width="2.3"/>
<circle cx="52" cy="1020.6" r="2.5" fill="#17b4bc" stroke="#08fcfc" stroke-width="2.3"/>
<circle cx="75.75" cy="1020.6" r="2.5" fill="#17b4bc" stroke="#08fcfc" stroke-width="2.3"/>
<circle cx="97" cy="1020.6" r="2.5" fill="#17b4bc" stroke="#08fcfc" stroke-width="2.3"/>
<circle cx="120" cy="1020.6" r="2.5" fill="#17b4bc" stroke="#08fcfc" stroke-width="2.3"/>
<circle cx="141.25" cy="1020.6" r="2.5" fill="#17b4bc" stroke="#08fcfc" stroke-width="2.3"/>
<circle cx="164.25" cy="1020.6" r="2.5" fill="#17b4bc" stroke="#08fcfc" stroke-width="2.3"/>
<circle cx="188" cy="1020.6" r="2.5" fill="#17b4bc" stroke="#08fcfc" stroke-width="2.3"/>
<circle cx="211.25" cy="1020.6" r="2.5" fill="#17b4bc" stroke="#08fcfc" stroke-width="2.3"/>
<circle cx="235" cy="1020.6" r="2.5" fill="#17b4bc" stroke="#08fcfc" stroke-width="2.3"/>
<circle cx="258" cy="1020.6" r="2.5" fill="#17b4bc" stroke="#08fcfc" stroke-width="2.3"/>
<circle cx="281.75" cy="1020.6" r="2.5" fill="#17b4bc" stroke="#08fcfc" stroke-width="2.3"/>
<circle cx="305.5" cy="1020.6" r="2.5" fill="#17b4bc" stroke="#08fcfc" stroke-width="2.3"/>
<circle cx="334.5" cy="1020.6" r="2.5" fill="#17b4bc" stroke="#08fcfc" stroke-width="2.3"/>
<circle cx="363.5" cy="1020.6" r="2.5" fill="#17b4bc" stroke="#08fcfc" stroke-width="2.3"/>
<circle cx="386" cy="1020.6" r="2.5" fill="#17b4bc" stroke="#08fcfc" stroke-width="2.3"/>
<circle cx="409.5" cy="1020.6" r="2.5" fill="#17b4bc" stroke="#08fcfc" stroke-width="2.3"/>
<circle cx="433" cy="1020.6" r="2.5" fill="#17b4bc" stroke="#08fcfc" stroke-width="2.3"/>
<circle cx="456.5" cy="1020.6" r="2.5" fill="#17b4bc" stroke="#08fcfc" stroke-width="2.3"/>
<circle cx="479.5" cy="1020.6" r="2.5" fill="#17b4bc" stroke="#08fcfc" stroke-width="2.3"/>
<circle cx="503.25" cy="1020.6" r="2.5" fill="#17b4bc" stroke="#08fcfc" stroke-width="2.3"/>
<circle cx="529.5" cy="1020.6" r="2.5" fill="#17b4bc" stroke="#08fcfc" stroke-width="2.3"/>
<circle cx="552.75" cy="1020.6" r="2.5" fill="#17b4bc" stroke="#08fcfc" stroke-width="2.3"/>
<circle cx="574" cy="1020.6" r="2.5" fill="#17b4bc" stroke="#08fcfc" stroke-width="2.3"/>
<circle cx="595.25" cy="1020.6" r="2.5" fill="#17b4bc" stroke="#08fcfc" stroke-width="2.3"/>
<circle cx="618" cy="1020.6" r="2.5" fill="#17b4bc" stroke="#08fcfc" stroke-width="2.3"/>
<circle cx="639.25" cy="1020.6" r="2.5" fill="#17b4bc" stroke="#08fcfc" stroke-width="2.3"/>
<circle cx="662.5" cy="1020.6" r="2.5" fill="#17b4bc" stroke="#08fcfc" stroke-width="2.3"/>
<circle cx="685.75" cy="1020.6" r="2.5" fill="#17b4bc" stroke="#08fcfc" stroke-width="2.3"/>
<circle cx="709.5" cy="1020.6" r="2.5" fill="#17b4bc" stroke="#08fcfc" stroke-width="2.3"/>
<circle cx="732.5" cy="1020.6" r="2.5" fill="#17b4bc" stroke="#08fcfc" stroke-width="2.3"/>
<circle cx="753.75" cy="1020.6" r="2.5" fill="#17b4bc" stroke="#08fcfc" stroke-width="2.3"/>
<circle cx="775" cy="1020.6" r="2.5" fill="#17b4bc" stroke="#08fcfc" stroke-width="2.3"/>
<circle cx="798" cy="1020.6" r="2.5" fill="#17b4bc" stroke="#08fcfc" stroke-width="2.3"/>
<circle cx="819.25" cy="1020.6" r="2.5" fill="#17b4bc" stroke="#08fcfc" stroke-width="2.3"/>
<circle cx="850" cy="1020.6" r="2.5" fill="#17b4bc" stroke="#08fcfc" stroke-width="2.3"/>
<circle cx="884.25" cy="1020.6" r="2.5" fill="#17b4bc" stroke="#08fcfc" stroke-width="2.3"/>
<circle cx="907.5" cy="1020.6" r="2.5" fill="#17b4bc" stroke="#08fcfc" stroke-width="2.3"/>
<circle cx="930.75" cy="1020.6" r="2.5" fill="#17b4bc" stroke="#08fcfc" stroke-width="2.3"/>
<circle cx="954.5" cy="1020.6" r="2.5" fill="#17b4bc" stroke="#08fcfc" stroke-width="2.3"/>
<polyline points="5.5,1020.6 28.75,1020.6 52,1020.6 75.75,1020.6 97,1020.6 120,1020.6 141.25,1020.6 164.25,1020.6 188,1020.6 211.25,1020.6 235,1020.6 258,1020.6 281.75,1020.6 305.5,1020.6 334.5,1020.6 363.5,1020.6 386,1020.6 409.5,1020.6 433,1020.6 456.5,1020.6 479.5,1020.6 503.25,1020.6 529.5,1020.6 552.75,1020.6 574,1020.6 595.25,1020.6 618,1020.6 639.25,1020.6 662.5,1020.6 685.75,1020.6 709.5,1020.6 732.5,1020.6 753.75,1020.6 775,1020.6 798,1020.6 819.25,1020.6 850,1020.6 884.25,1020.6 907.5,1020.6 930.75,1020.6 954.5,1020.6" fill="none" stroke="#3adcde" stroke-width="1.2" stroke-linejoin="round" opacity="0.6"/>
<rect x="0" y="1049.4" width="960" height="2.0" fill="#6c6c6c"/>
<text x="0" y="1074.5" font-size="22.5" fill="#fff" font-weight="normal" text-anchor="start" textLength="339.7" lengthAdjust="spacingAndGlyphs" stroke="#fff" stroke-width="0.4">Флаг нажатия педали сцепления</text>
<text x="869.76" y="1074.5" font-size="22.5" fill="#fff" font-weight="normal" text-anchor="start" textLength="37.26" lengthAdjust="spacingAndGlyphs" stroke="#fff" stroke-width="0.4">Нет</text>
<rect x="0" y="1080.6" width="960" height="2.0" fill="#6c6c6c"/>
<text x="0" y="1105.7" font-size="22.5" fill="#fff" font-weight="normal" text-anchor="start" textLength="636.9" lengthAdjust="spacingAndGlyphs" stroke="#fff" stroke-width="0.4">Цикловое наполнение по ДАД во впускном коллекторе (мг/ц)</text>
<text x="870.6" y="1105.7" font-size="22.5" fill="#fff" font-weight="normal" text-anchor="start" textLength="39.63" lengthAdjust="spacingAndGlyphs" stroke="#fff" stroke-width="0.4">73,0</text>
<rect x="0" y="1111.8" width="960" height="2.0" fill="#6c6c6c"/>
<text x="0" y="1136.9" font-size="22.5" fill="#fff" font-weight="normal" text-anchor="start" textLength="560.7" lengthAdjust="spacingAndGlyphs" stroke="#fff" stroke-width="0.4">Измеренное давление во впускном коллекторе (мБар)</text>
<text x="870.34" y="1136.9" font-size="22.5" fill="#fff" font-weight="normal" text-anchor="start" textLength="51.45" lengthAdjust="spacingAndGlyphs" stroke="#fff" stroke-width="0.4">239,0</text>
<rect x="0" y="1143.0" width="960" height="2.0" fill="#6c6c6c"/>
</svg>
</body></html>
